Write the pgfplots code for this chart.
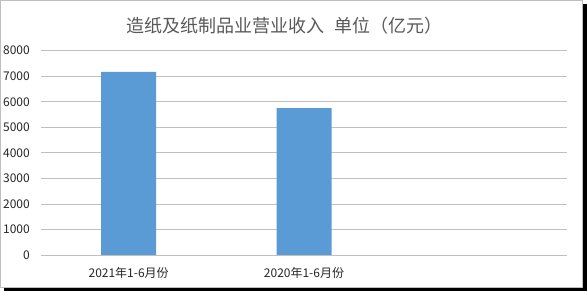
\documentclass[border=0pt]{standalone}
\usepackage{pgfplots}
\pgfplotsset{compat=1.18}
\usepackage{fontspec}
\setmainfont{Noto Sans CJK SC}
\definecolor{barblue}{HTML}{5B9BD5}
\definecolor{txtgray}{HTML}{595959}
\definecolor{gridgray}{HTML}{BFBFBF}
\begin{document}
\begin{tikzpicture}
\useasboundingbox (0pt,0pt) rectangle (587pt,291pt);
\fill[black] (4pt,0pt) rectangle (587pt,287pt);
\filldraw[fill=white, draw=gridgray, line width=0.8pt] (0.5pt,4pt) rectangle (582.5pt,290.5pt);
\node[text=txtgray, font=\fontsize{18}{20}\selectfont, anchor=center] at (284.5pt,265pt) {造纸及纸制品业营业收入\hspace{0.6em}单位（亿元）};
\begin{axis}[
  at={(41pt,36pt)}, anchor=south west,
  scale only axis, width=526pt, height=204.3pt,
  xmin=-0.5, xmax=2.5, ymin=0, ymax=8000,
  xtick={0,1}, xticklabels={2021年1-6月份,2020年1-6月份},
  ytick={0,1000,...,8000},
  axis line style={draw=none},
  major tick length=0pt,
  ymajorgrids, grid style={gridgray, line width=0.8pt},
  ticklabel style={font=\fontsize{12}{14}\selectfont, text=black!85},
  yticklabel style={anchor=east, inner sep=0pt, xshift=-11pt},
  xticklabel style={anchor=center, inner sep=0pt, yshift=-18pt},
  scaled y ticks=false,
  yticklabel={\pgfmathprintnumber[fixed, 1000 sep={}]{\tick}},
  /pgf/number format/assume math mode=true,
  ybar, bar width=55pt, bar shift=0pt,
]
\addplot[fill=barblue, draw=none] coordinates {(0,7170) (1,5750)};
\end{axis}
\end{tikzpicture}
\end{document}
